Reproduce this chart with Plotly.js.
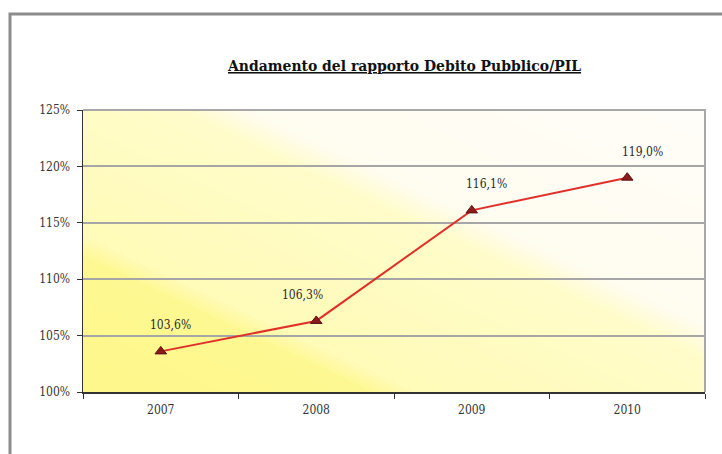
<!DOCTYPE html>
<html>
<head>
<meta charset="utf-8">
<script src="https://cdn.plot.ly/plotly-3.0.1.min.js"></script>
<style>html,body{margin:0;padding:0;background:#fff;}#chart{width:722px;height:454px;}</style>
</head>
<body>
<div id="chart"></div>
<script>
// ---- data ----
const years = ['2007', '2008', '2009', '2010'];
const debtRatio = [103.6, 106.3, 116.1, 119.0];
const yTicks = [100, 105, 110, 115, 120, 125];
const titleText = 'Andamento del rapporto Debito Pubblico/PIL';

// ---- style ----
const W = 722, H = 454;
const M = {l: 83, r: 17, t: 110, b: 62};
const PW = W - M.l - M.r, PH = H - M.t - M.b;
const labelXShift = [10, -14, 15, 15];
const labelYShift = 26;
const FONT = '"DejaVu Serif Condensed", "Liberation Serif", serif';

// background gradient bands (diagonal)
const nx = 0.426, ny = 0.905;
const stops = [[0, [254, 247, 138]], [122, [254, 248, 146]], [142, [255, 251, 184]],
               [295, [255, 252, 202]], [325, [255, 252, 240]], [530, [255, 253, 248]]];
function colAt(t) {
  for (let i = 0; i < stops.length - 1; i++) {
    const [t0, c0] = stops[i], [t1, c1] = stops[i + 1];
    if (t <= t1) {
      const f = Math.max(0, (t - t0) / (t1 - t0));
      return 'rgb(' + c0.map((c, k) => Math.round(c + (c1[k] - c) * f)).join(',') + ')';
    }
  }
  return 'rgb(' + stops[stops.length - 1][1].join(',') + ')';
}
function clip(poly, a, b, c) { // keep a*x+b*y >= c
  const out = [];
  for (let i = 0; i < poly.length; i++) {
    const p = poly[i], q = poly[(i + 1) % poly.length];
    const fp = a * p[0] + b * p[1] - c, fq = a * q[0] + b * q[1] - c;
    if (fp >= 0) out.push(p);
    if ((fp >= 0) !== (fq >= 0)) {
      const s = fp / (fp - fq);
      out.push([p[0] + (q[0] - p[0]) * s, p[1] + (q[1] - p[1]) * s]);
    }
  }
  return out;
}
const shapes = [];
const rect = [[0, 0], [PW, 0], [PW, PH], [0, PH]];
const N = 130, tMax = nx * PW + ny * PH;
for (let i = 0; i < N; i++) {
  const ta = tMax * i / N, tb = tMax * (i + 1) / N + 0.8;
  let poly = clip(rect, nx, ny, ta);
  poly = clip(poly, -nx, -ny, -tb);
  if (poly.length < 3) continue;
  const path = 'M' + poly.map(p => (p[0] / PW).toFixed(5) + ',' + (p[1] / PH).toFixed(5)).join('L') + 'Z';
  shapes.push({type: 'path', xref: 'paper', yref: 'paper', path: path,
    fillcolor: colAt((ta + tb) / 2), line: {width: 0}, layer: 'below'});
}
// plot area border (grey, top/right)
shapes.push({type: 'path', xref: 'paper', yref: 'paper', path: 'M0,1L1,1L1,0',
  line: {color: '#a8a8a8', width: 2}, layer: 'below'});
// outer frame
const px2x = px => (px - M.l) / PW, px2y = py => (H - M.b - py) / PH;
shapes.push({type: 'path', xref: 'paper', yref: 'paper',
  path: 'M' + px2x(10) + ',' + px2y(470) + 'L' + px2x(10) + ',' + px2y(14) + 'L' + px2x(740) + ',' + px2y(14),
  line: {color: '#8c8c8c', width: 3}});

const annotations = debtRatio.map((v, i) => ({
  x: i, y: v, xref: 'x', yref: 'y', showarrow: false,
  xanchor: 'center', yanchor: 'middle',
  text: v.toFixed(1).replace('.', ',') + '%',
  xshift: labelXShift[i], yshift: labelYShift,
  font: {family: FONT, size: 12, color: '#2a2a2a'}
}));
annotations.push({
  xref: 'paper', yref: 'paper', x: px2x(404), y: px2y(65), showarrow: false,
  xanchor: 'center', yanchor: 'middle',
  text: '<b><u>' + titleText + '</u></b>',
  font: {family: FONT, size: 15.5, color: '#111'}
});

const trace = {
  type: 'scatter', mode: 'lines+markers', x: years, y: debtRatio,
  line: {color: '#e0302a', width: 2},
  marker: {symbol: 'triangle-up', size: 10, color: '#8b1c1c', line: {color: '#5a1010', width: 1}},
  hoverinfo: 'skip', cliponaxis: false
};

const layout = {
  width: W, height: H, margin: M, showlegend: false,
  paper_bgcolor: '#ffffff', plot_bgcolor: 'rgba(0,0,0,0)',
  xaxis: {type: 'category', range: [-0.5, 3.5], tickson: 'boundaries', ticks: 'outside',
    ticklen: 5, tickcolor: '#333', showline: true, linecolor: '#333', linewidth: 1.5,
    showgrid: false, zeroline: false, ticklabelstandoff: 6,
    tickfont: {family: FONT, size: 12, color: '#333'}},
  yaxis: {range: [100, 125], tickvals: yTicks, ticktext: yTicks.map(v => v + '%'),
    ticks: 'outside', ticklen: 5, tickcolor: '#333', showline: true, linecolor: '#333',
    linewidth: 1.5, gridcolor: '#a6a6a6', gridwidth: 2, zeroline: false,
    ticklabelstandoff: 4,
    tickfont: {family: FONT, size: 12, color: '#333'}},
  shapes: shapes, annotations: annotations
};
Plotly.newPlot('chart', [trace], layout, {staticPlot: true, displayModeBar: false});
</script>
</body>
</html>
